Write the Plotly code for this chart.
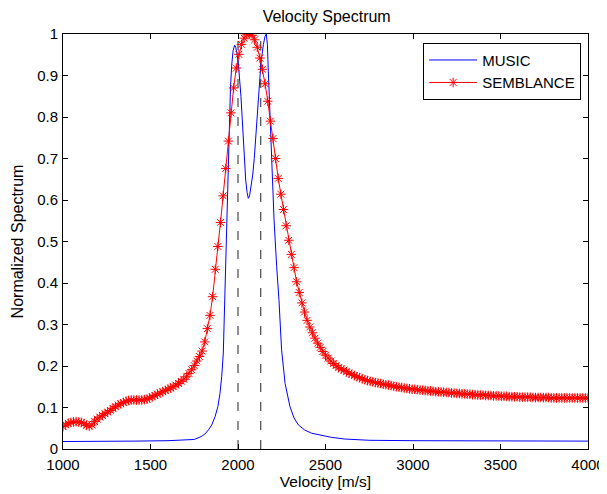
import plotly.graph_objects as go

# velocity grid of the semblance scan (m/s), one marker every 15 m/s
velocity = list(range(1000, 4001, 15))

semblance = [
    0.054, 0.058, 0.062, 0.064, 0.065, 0.066, 0.065, 0.064, 0.061, 0.057,
    0.055, 0.058, 0.066, 0.072, 0.077, 0.081, 0.085, 0.089, 0.093, 0.098,
    0.102, 0.106, 0.109, 0.112, 0.115, 0.117, 0.118, 0.118, 0.118, 0.118,
    0.118, 0.119, 0.120, 0.123, 0.126, 0.129, 0.132, 0.135, 0.138, 0.141,
    0.144, 0.147, 0.150, 0.154, 0.158, 0.163, 0.168, 0.174, 0.182, 0.191,
    0.201, 0.212, 0.223, 0.236, 0.258, 0.290, 0.322, 0.367, 0.433, 0.488,
    0.546, 0.610, 0.676, 0.742, 0.810, 0.870, 0.918, 0.951, 0.975, 0.990,
    0.998, 1.000, 0.997, 0.986, 0.968, 0.942, 0.915, 0.880, 0.838, 0.790,
    0.748, 0.700, 0.652, 0.614, 0.577, 0.538, 0.503, 0.469, 0.437, 0.403,
    0.377, 0.352, 0.330, 0.310, 0.294, 0.280, 0.267, 0.255, 0.245, 0.235,
    0.226, 0.219, 0.212, 0.206, 0.201, 0.196, 0.193, 0.190, 0.186, 0.183,
    0.180, 0.177, 0.174, 0.172, 0.169, 0.167, 0.165, 0.163, 0.162, 0.160,
    0.159, 0.158, 0.156, 0.155, 0.154, 0.153, 0.151, 0.150, 0.149, 0.148,
    0.147, 0.146, 0.145, 0.144, 0.144, 0.143, 0.142, 0.142, 0.141, 0.140,
    0.140, 0.139, 0.138, 0.138, 0.137, 0.137, 0.136, 0.136, 0.135, 0.135,
    0.134, 0.134, 0.133, 0.133, 0.132, 0.132, 0.131, 0.131, 0.130, 0.130,
    0.130, 0.129, 0.129, 0.129, 0.128, 0.128, 0.128, 0.127, 0.127, 0.127,
    0.126, 0.126, 0.126, 0.126, 0.125, 0.125, 0.125, 0.125, 0.125, 0.124,
    0.124, 0.124, 0.124, 0.124, 0.124, 0.124, 0.123, 0.123, 0.123, 0.123,
    0.123, 0.123, 0.123, 0.123, 0.123, 0.123, 0.123, 0.123, 0.123, 0.123,
    0.123,
]
assert len(semblance) == len(velocity)

music_velocity = [
    1000, 1200, 1400, 1600, 1700, 1750, 1790, 1811, 1831, 1850,
    1869, 1885, 1897, 1907, 1916, 1924, 1932, 1940, 1946, 1951,
    1957, 1964, 1972, 1981, 1987, 1993, 2002, 2017, 2030, 2044,
    2052, 2059, 2066, 2074, 2084, 2093, 2103, 2112, 2122, 2131,
    2145, 2155, 2162, 2168, 2173, 2183, 2192, 2206, 2221, 2234,
    2249, 2269, 2297, 2320, 2345, 2380, 2421, 2480, 2535, 2611,
    2750, 3000, 3500, 4000,
]
music = [
    0.018, 0.018, 0.019, 0.020, 0.021, 0.023, 0.030, 0.036, 0.046, 0.058,
    0.078, 0.102, 0.134, 0.175, 0.231, 0.360, 0.480, 0.600, 0.700, 0.790,
    0.870, 0.925, 0.960, 0.973, 0.968, 0.955, 0.929, 0.849, 0.745, 0.648,
    0.618, 0.604, 0.610, 0.632, 0.660, 0.700, 0.760, 0.809, 0.870, 0.929,
    0.975, 0.995, 1.000, 0.975, 0.913, 0.793, 0.672, 0.552, 0.440, 0.360,
    0.239, 0.158, 0.102, 0.075, 0.058, 0.046, 0.038, 0.032, 0.028, 0.024,
    0.021, 0.020, 0.019, 0.019,
]

# picked velocities marked with dashed lines
picked_velocity = [2000, 2130]

font = "Liberation Sans, Arial, Helvetica, sans-serif"

fig = go.Figure()

for v in picked_velocity:
    fig.add_trace(go.Scatter(
        x=[v, v], y=[0, 1], mode="lines",
        line=dict(color="#222222", width=1, dash="9px,10px"),
        showlegend=False, hoverinfo="skip"
    ))

fig.add_trace(go.Scatter(
    x=music_velocity, y=music, mode="lines", name="MUSIC",
    line=dict(color="#0000ff", width=1)
))

fig.add_trace(go.Scatter(
    x=velocity, y=semblance, mode="lines+markers", name="SEMBLANCE",
    line=dict(color="#ff0000", width=1),
    marker=dict(symbol="asterisk-open", size=8, color="#ff0000",
                line=dict(color="#ff0000", width=1))
))

axis_style = dict(
    showline=True, linecolor="black", linewidth=1, mirror="ticks",
    ticks="inside", ticklen=5, tickcolor="black", showgrid=False,
    zeroline=False, automargin=False,
    tickfont=dict(size=15, color="black", family=font),
)

# the page body adds an 8 px offset, so the figure is 8 px smaller
fig.update_layout(
    width=599, height=486,
    margin=dict(l=55, r=19, t=26, b=45),
    paper_bgcolor="white", plot_bgcolor="white",
    font=dict(family=font, size=15, color="black"),
    title=dict(text="Velocity Spectrum", x=0.532, xanchor="center",
               y=0.982, yanchor="middle", font=dict(size=16)),
    xaxis=dict(range=[1000, 4000], dtick=500, ticklabelstandoff=2,
               title=dict(text="Velocity [m/s]", standoff=0,
                          font=dict(size=15.5)), **axis_style),
    yaxis=dict(range=[0, 1], dtick=0.1, ticklabelstandoff=1,
               title=dict(text="Normalized Spectrum", standoff=9,
                          font=dict(size=16)), **axis_style),
    legend=dict(x=0.987, y=0.979, xanchor="right", yanchor="top",
                bgcolor="white", bordercolor="black", borderwidth=1,
                font=dict(size=15), tracegroupgap=0, itemwidth=48),
    showlegend=True,
)

fig.write_html("out.html")
